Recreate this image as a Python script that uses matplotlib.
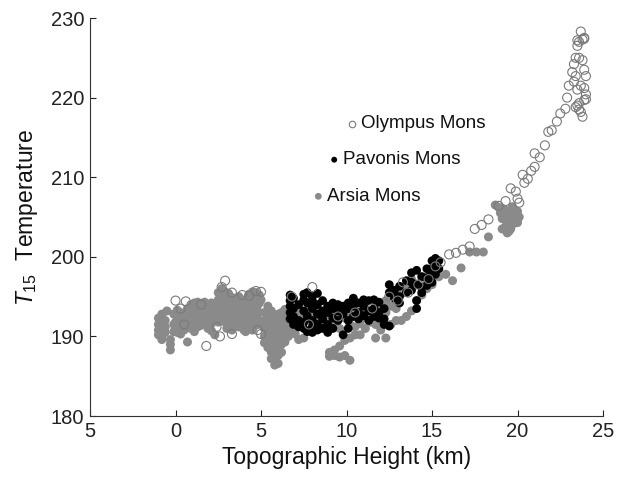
import matplotlib
matplotlib.use("Agg")
import matplotlib.pyplot as plt

plt.rcParams['font.family'] = ['Liberation Sans', 'DejaVu Sans']
plt.rcParams['mathtext.fontset'] = 'custom'
plt.rcParams['mathtext.rm'] = 'Liberation Sans'
plt.rcParams['mathtext.it'] = 'Liberation Sans:italic'

# Olympus Mons (open circles)
oly_x = [0.0, 0.6, 0.3, 1.8, 2.6, 2.9, 2.7, 3.3, 3.9, 4.3, 4.7, 5.0, 2.4, 3.3, 4.8, 5.0, 1.5, 0.5,
         6.8, 8.0, 7.8, 9.5, 10.5, 11.5, 12.5, 13.0, 13.3, 13.6, 14.2, 14.8, 15.2, 15.5, 16.0, 16.4,
         16.8, 17.2, 17.5, 17.9, 18.3, 18.9, 19.3, 19.6, 19.9, 20.0, 20.1, 20.3, 20.4, 20.6, 20.8,
         21.0, 21.0, 21.3, 21.6, 21.8, 22.0, 22.3, 22.5, 22.8, 22.9, 23.0, 23.2, 23.3, 23.4, 23.4,
         23.5, 23.6, 23.7, 23.8, 23.9, 23.6, 23.8, 23.9, 24.0, 23.5, 23.9, 24.0, 23.5, 23.6, 23.7,
         23.8, 23.9, 24.0, 23.4, 23.6, 23.7, 23.3, 23.5, 23.9]
oly_y = [194.5, 194.4, 193.5, 188.8, 190.0, 197.0, 196.2, 195.5, 195.2, 195.1, 195.7, 195.6, 191.2,
         190.3, 190.8, 190.3, 194.0, 191.5, 195.0, 196.2, 191.5, 192.5, 193.0, 193.5, 195.0, 194.5,
         196.8, 195.5, 196.5, 197.2, 198.8, 199.3, 200.3, 200.5, 200.9, 201.3, 203.5, 204.0, 204.7,
         206.4, 207.0, 208.6, 208.2, 207.3, 206.8, 210.3, 209.3, 209.8, 210.8, 211.3, 213.0, 212.5,
         214.0, 215.7, 215.9, 217.0, 218.0, 218.6, 220.0, 221.5, 223.2, 224.2, 222.7, 225.0, 226.5,
         227.0, 228.3, 227.3, 227.4, 225.0, 224.7, 223.5, 222.7, 221.0, 221.2, 220.4, 219.0, 218.5,
         218.2, 217.6, 219.7, 219.8, 218.8, 219.3, 221.5, 222.0, 227.2, 227.5]

# Pavonis Mons (black dots)
pav_x = [6.7, 6.7, 6.7, 6.7, 6.7, 6.9, 6.9, 6.9, 6.9, 7.2, 7.2, 7.2, 7.5, 7.5, 7.5, 7.5, 7.5,
         7.7, 7.7, 7.7, 7.7, 8.0, 8.0, 8.0, 8.0, 8.0, 8.0, 8.3, 8.3, 8.3, 8.3, 8.3, 8.6, 8.6, 8.6,
         8.6, 8.9, 8.9, 8.9, 8.9, 9.2, 9.2, 9.2, 9.2, 9.5, 9.5, 9.5, 9.8, 9.8, 9.8, 10.1, 10.1,
         10.1, 10.1, 10.4, 10.4, 10.4, 10.7, 10.7, 10.7, 11.0, 11.0, 11.0, 11.3, 11.3, 11.3, 11.6,
         11.6, 11.6, 11.9, 11.9, 11.9, 12.2, 12.2, 12.2, 12.5, 12.5, 12.5, 12.8, 12.8, 13.1, 13.1,
         13.1, 13.5, 13.5, 13.8, 13.8, 13.8, 14.1, 14.1, 14.1, 14.1, 14.4, 14.4, 14.4, 14.7, 14.7,
         14.7, 15.0, 15.0, 15.0, 15.0, 15.2, 15.2, 15.2, 15.4, 15.4]
pav_y = [195.2, 194.5, 193.8, 193.0, 192.2, 194.8, 193.5, 192.5, 191.5, 194.0, 192.0, 191.2,
         195.3, 194.6, 193.2, 191.8, 191.0, 195.5, 194.2, 192.6, 190.6, 195.0, 194.5, 193.5, 192.0,
         191.2, 190.5, 195.4, 194.0, 192.8, 191.5, 190.8, 194.5, 193.2, 192.2, 191.0, 193.8, 193.0,
         191.5, 190.5, 194.2, 193.5, 192.3, 191.0, 194.0, 193.2, 192.0, 193.8, 192.8, 190.2, 194.2,
         193.5, 192.0, 191.0, 194.8, 193.8, 192.5, 194.2, 193.0, 192.2, 194.6, 193.8, 192.6, 194.5,
         193.2, 192.0, 194.6, 193.5, 192.5, 194.3, 193.0, 192.3, 193.5, 192.2, 191.5, 195.5, 196.5,
         191.3, 195.8, 194.8, 196.3, 195.0, 194.2, 197.0, 195.5, 198.0, 196.8, 195.8, 198.3, 196.5,
         194.5, 193.5, 197.5, 196.2, 195.5, 198.5, 197.4, 196.4, 199.5, 198.5, 197.8, 196.8, 199.8,
         198.8, 197.8, 199.5, 198.5]

# Arsia Mons (grey dots)
ars_x = [-1.0, -1.0, -1.0, -1.0, -0.8, -0.8, -0.8, -0.8, -0.8, -0.6, -0.6, -0.6, -0.5, -0.3,
         -0.3, -0.3, -0.1, -0.1, -0.1, 0.1, 0.1, 0.1, 0.1, 0.3, 0.3, 0.3, 0.3, 0.5, 0.5, 0.5, 0.7,
         0.7, 0.7, 0.7, 0.9, 0.9, 0.9, 0.9, 1.1, 1.1, 1.1, 1.1, 1.1, 1.3, 1.3, 1.3, 1.3, 1.3, 1.5,
         1.5, 1.5, 1.5, 1.7, 1.7, 1.7, 1.7, 1.9, 1.9, 1.9, 1.9, 2.1, 2.1, 2.1, 2.1, 2.1, 2.3, 2.3,
         2.3, 2.3, 2.5, 2.5, 2.5, 2.5, 2.5, 2.7, 2.7, 2.7, 2.7, 2.7, 2.9, 2.9, 2.9, 2.9, 2.9, 3.1,
         3.1, 3.1, 3.1, 3.1, 3.3, 3.3, 3.3, 3.3, 3.3, 3.5, 3.5, 3.5, 3.5, 3.7, 3.7, 3.7, 3.7, 3.7,
         3.9, 3.9, 3.9, 3.9, 4.1, 4.1, 4.1, 4.1, 4.1, 4.3, 4.3, 4.3, 4.3, 4.3, 4.5, 4.5, 4.5, 4.5,
         4.5, 4.5, 4.7, 4.7, 4.7, 4.7, 4.7, 4.9, 4.9, 4.9, 4.9,
         -0.9, -0.7, 0.0, 0.2, 0.4, 0.6, 0.8, 1.0, 1.2, 1.4, 1.6, 1.8, 2.0, 2.2, 2.4, 2.6, 2.8,
         3.0, 3.2, 3.4, 3.6, 3.8, 4.0, 4.2, 4.4, 4.6, 4.8, 5.0, 0.0, 1.0, 2.0, 3.0, 4.0, 5.0,
         5.2, 5.2, 5.2, 5.2, 5.2, 5.4, 5.4, 5.4, 5.4, 5.4, 5.4, 5.6, 5.6, 5.6, 5.6, 5.6, 5.6, 5.6,
         5.8, 5.8, 5.8, 5.8, 5.8, 5.8, 5.8, 6.0, 6.0, 6.0, 6.0, 6.0, 6.0, 6.0, 6.2, 6.2, 6.2, 6.2,
         6.2, 6.2, 6.4, 6.4, 6.4, 6.4, 6.4, 6.6, 6.6, 6.6, 6.6, 6.8, 6.8, 6.8, 7.0, 7.0, 7.0, 7.0,
         7.2, 7.2, 7.2, 7.5, 7.5, 7.5, 7.8, 7.8, 8.1, 8.1, 8.1, 8.4, 8.4, 8.7, 8.7, 9.0, 9.0, 9.0,
         9.0, 9.0, 9.3, 9.3, 9.3, 9.3, 9.6, 9.6, 9.6, 9.6, 9.9, 9.9, 9.9, 10.2, 10.2, 10.2, 10.2,
         10.5, 10.5, 10.5, 10.8, 10.8, 10.8, 11.1, 11.1, 11.4, 11.4, 11.7, 11.7, 11.7, 12.0, 12.0,
         12.0, 12.3, 12.3, 12.3, 12.6, 12.6, 12.6, 12.9, 12.9, 12.9, 13.2, 13.2, 13.5, 13.5, 13.8,
         13.8, 14.1, 14.1, 14.4, 14.4, 14.7, 14.7, 15.0, 15.0, 15.4, 15.8, 16.2, 16.7, 17.2, 17.6,
         18.0, 18.3, 18.7, 18.9, 19.0, 19.1, 19.2, 19.3, 19.3, 19.4, 19.5, 19.5, 19.6, 19.7, 19.7,
         19.8, 19.9, 20.0, 20.0, 19.1, 19.4, 19.6, 19.8, 20.1]
ars_y = [192.3, 191.5, 190.8, 190.2, 192.8, 191.8, 191.0, 190.0, 189.6, 192.0, 191.2, 190.5,
         193.2, 189.0, 188.3, 189.6, 192.8, 191.5, 190.6, 193.3, 192.4, 191.4, 190.5, 193.0, 192.0,
         191.0, 190.3, 192.6, 191.8, 190.8, 193.5, 192.2, 191.3, 189.3, 194.0, 193.0, 192.0, 191.0,
         194.2, 193.3, 192.4, 191.5, 190.6, 194.3, 193.6, 192.8, 192.0, 191.2, 194.0, 193.2, 192.3,
         191.4, 194.3, 193.5, 192.6, 191.8, 194.0, 193.0, 192.2, 191.0, 194.2, 193.4, 192.5, 191.6,
         190.7, 193.8, 192.8, 192.0, 190.2, 195.5, 194.6, 193.6, 192.7, 191.8, 196.0, 195.2, 194.4,
         193.3, 192.3, 195.6, 194.8, 193.8, 192.8, 191.8, 195.4, 194.4, 193.4, 192.4, 191.4, 194.9,
         193.9, 192.9, 191.8, 190.8, 194.5, 193.5, 192.6, 191.6, 195.0, 194.0, 193.0, 192.0, 191.2,
         194.6, 193.5, 192.5, 191.5, 194.2, 193.2, 192.3, 191.4, 190.6, 195.3, 194.3, 193.3, 192.2,
         191.2, 195.6, 194.7, 193.8, 192.8, 191.8, 190.8, 195.5, 194.5, 193.5, 192.4, 191.4, 195.2,
         194.2, 193.0, 192.0,
         191.2, 191.4, 191.8, 192.6, 191.6, 192.2, 192.8, 192.5, 193.0, 192.6, 193.0, 192.4, 192.8,
         193.0, 192.3, 193.8, 194.0, 193.9, 193.2, 194.0, 193.8, 193.4, 193.6, 193.8, 194.2, 193.2,
         193.9, 194.6, 191.0, 191.2, 191.3, 191.0, 190.8, 191.5,
         193.0, 192.0, 191.0, 190.0, 189.2, 193.8, 192.6, 191.5, 190.5, 189.5, 188.6, 193.2, 192.0,
         191.0, 190.0, 189.0, 188.0, 187.2, 192.4, 191.3, 190.2, 189.2, 188.2, 187.2, 186.4, 192.8,
         191.8, 190.6, 189.6, 188.6, 187.6, 186.6, 193.0, 192.0, 191.0, 190.0, 189.0, 188.0, 193.4,
         192.4, 191.4, 190.4, 189.3, 193.0, 192.0, 191.0, 190.0, 192.5, 191.5, 190.6, 193.3, 192.3,
         191.3, 190.3, 193.5, 192.6, 189.6, 193.0, 192.2, 189.8, 193.2, 192.0, 194.0, 192.8, 191.8,
         193.3, 192.4, 193.0, 191.8, 192.8, 192.0, 191.2, 188.0, 187.5, 193.2, 191.5, 188.3, 187.6,
         192.6, 191.0, 188.8, 187.4, 192.3, 189.5, 187.6, 193.0, 191.5, 189.8, 187.0, 192.8, 191.2,
         190.2, 193.0, 191.6, 190.2, 192.4, 191.0, 193.2, 191.8, 192.8, 191.5, 189.8, 193.5, 192.0,
         190.8, 194.5, 193.0, 189.8, 195.2, 193.8, 191.5, 195.0, 193.5, 192.0, 195.6, 192.0, 196.5,
         192.5, 193.2, 197.2, 194.5, 196.6, 195.2, 197.5, 196.0, 197.0, 196.5, 197.8, 197.5, 197.8,
         197.0, 198.6, 200.6, 200.6, 200.6, 202.5, 206.5, 206.2, 205.5, 204.8, 206.0, 205.2, 203.8,
         204.5, 205.8, 203.2, 204.8, 205.5, 206.3, 204.2, 205.0, 205.7, 204.3, 203.5, 203.0, 203.5,
         205.9, 205.0]

names = ['Olympus Mons', 'Pavonis Mons', 'Arsia Mons']
key_x = [10.33, 9.28, 8.35]
key_y = [216.7, 212.2, 207.6]

xticks = [-5, 0, 5, 10, 15, 20, 25]
xtick_labels = ['5', '0', '5', '10', '15', '20', '25']
yticks = [180, 190, 200, 210, 220, 230]

grey = '#8a8a8a'

fig = plt.figure(figsize=(6.26, 4.8), dpi=100)
ax = fig.add_axes([0.1438, 0.1333, 0.8195, 0.8292])

ax.scatter(ars_x, ars_y, s=42, color=grey, edgecolors='none', zorder=2)
ax.scatter(pav_x, pav_y, s=40, color='black', edgecolors='none', zorder=3)
ax.scatter(oly_x, oly_y, s=42, facecolors='none', edgecolors='#7a7a7a', linewidths=0.8, zorder=4)

# hand-made key
ax.scatter(key_x[0], key_y[0], s=22, facecolors='white', edgecolors='#7a7a7a', linewidths=0.8)
ax.scatter(key_x[1], key_y[1], s=18, color='black', edgecolors='none')
ax.scatter(key_x[2], key_y[2], s=24, color=grey, edgecolors='none')
for i in range(3):
    ax.text(key_x[i] + 0.5, key_y[i], names[i], fontsize=13.5, va='center', ha='left', color='#111111')

ax.set_xlim(-5, 25)
ax.set_ylim(180, 230)
ax.set_xticks(xticks)
ax.set_xticklabels(xtick_labels)
ax.set_yticks(yticks)
ax.tick_params(direction='in', length=4, width=0.8, labelsize=14.5, colors='#222222', pad=4)
ax.spines['top'].set_visible(False)
ax.spines['right'].set_visible(False)
for sp in ['left', 'bottom']:
    ax.spines[sp].set_color('#333333')
    ax.spines[sp].set_linewidth(0.8)

ax.set_xlabel('Topographic Height (km)', fontsize=16.5, color='#111111', labelpad=4)
ax.set_ylabel(r'$\mathit{T_{15}}$  Temperature', fontsize=16.5, color='#111111', labelpad=8)

fig.savefig('out.png', dpi=100)
